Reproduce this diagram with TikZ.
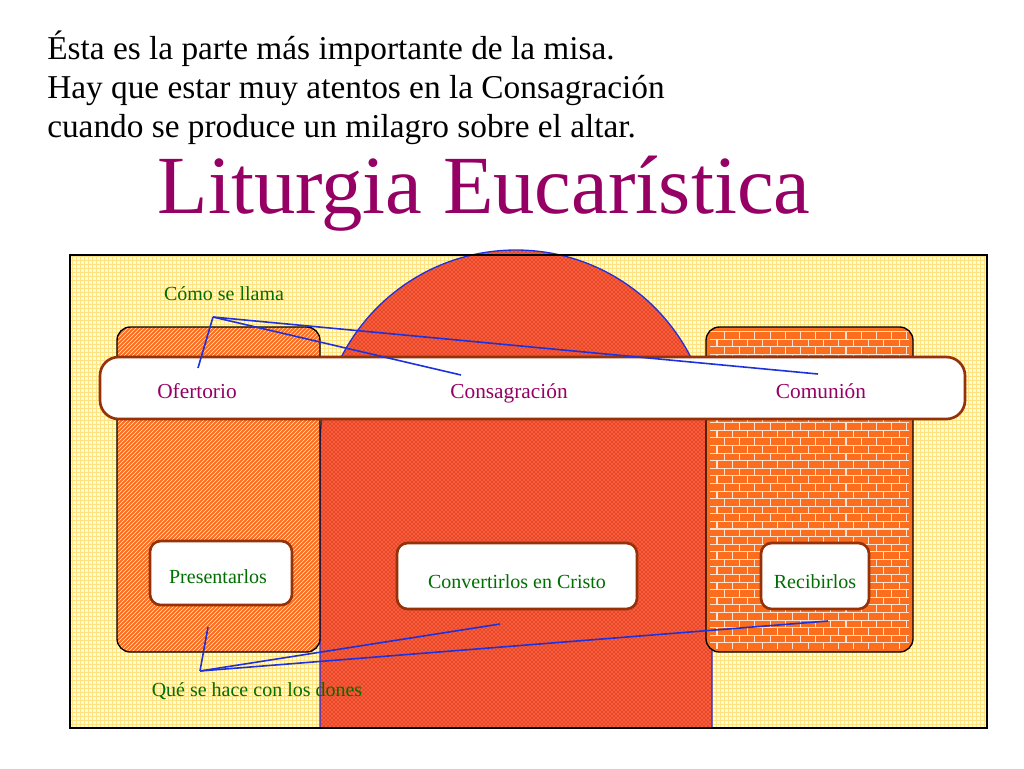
\documentclass[tikz,border=0pt]{standalone}
\usepackage{fontspec}
\setmainfont{Liberation Serif}
\usetikzlibrary{patterns}
\definecolor{bgyel}{RGB}{255,250,215}
\definecolor{redor}{RGB}{238,70,35}
\definecolor{orng}{RGB}{250,110,30}
\definecolor{brn}{RGB}{150,50,10}
\definecolor{purp}{RGB}{150,0,100}
\definecolor{grn}{RGB}{0,110,0}
\definecolor{blu}{RGB}{30,50,220}
\tikzset{
  lbox/.style={draw=brn, line width=2pt, fill=white, rounded corners=8pt},
  ptxt/.style={text=purp, anchor=base, font=\fontsize{16}{18}\selectfont},
  gtxt/.style={text=grn, anchor=base, font=\fontsize{15}{17}\selectfont},
  link/.style={draw=blu, line width=1.2pt}
}
\begin{document}
\begin{tikzpicture}[x=0.75pt, y=-0.75pt]
\useasboundingbox (0,0) rectangle (1024,768);
% Heading
\node[anchor=north west, align=left, inner sep=0pt, font=\fontsize{25}{29}\selectfont] (head) at (47,31)
  {Ésta es la parte más importante de la misa.\\Hay que estar muy atentos en la Consagración\\cuando se produce un milagro sobre el altar.};
\node[text=purp, font=\fontsize{62}{68}\selectfont] (title) at (484,194) {Liturgia Eucarística};

% Frame
\fill[bgyel] (70,255) rectangle (987,728);
\fill[pattern=grid, pattern color=yellow!55!orange!50] (70,255) rectangle (987,728);
\fill[redor] (320,728) -- (320,446) arc[start angle=180, end angle=360, radius=196] -- (712,728) -- cycle;
\fill[pattern=crosshatch dots, pattern color=white!60!redor] (320,728) -- (320,446) arc[start angle=180, end angle=360, radius=196] -- (712,728) -- cycle;
\draw[blu, line width=1pt] (320,728) -- (320,446) arc[start angle=180, end angle=360, radius=196] -- (712,728);
\draw[line width=1pt] (70,255) rectangle (987,728);

% Side panels
\fill[orng, rounded corners=10pt] (117,327) rectangle (320,652);
\fill[pattern=north east lines, pattern color=white!85!orng, rounded corners=10pt] (117,327) rectangle (320,652);
\draw[line width=1pt, rounded corners=10pt] (117,327) rectangle (320,652);
\fill[orng, rounded corners=10pt] (706,327) rectangle (913,652);
\fill[pattern=bricks, pattern color=white!80!orng] (710,331) rectangle (909,648);
\draw[line width=1pt, rounded corners=10pt] (706,327) rectangle (913,652);

% Band
\draw[lbox, rounded corners=14pt] (100,357) rectangle (965,419);
\node[ptxt] (ofer) at (197,398) {Ofertorio};
\node[ptxt] (cons) at (509,398) {Consagración};
\node[ptxt] (comu) at (821,398) {Comunión};

% Boxes
\draw[lbox] (150,541) rectangle (292,605);
\node[gtxt] (pres) at (218,583) {Presentarlos};
\draw[lbox] (397,543) rectangle (637,609);
\node[gtxt] (conv) at (517,588) {Convertirlos en Cristo};
\draw[lbox] (761,543) rectangle (869,609);
\node[gtxt] (reci) at (815,588) {Recibirlos};

% Callouts
\node[gtxt] (como) at (224,300) {Cómo se llama};
\coordinate (cp) at (213,317);
\draw[link] (cp) -- (198,368);
\draw[link] (cp) -- (461,375);
\draw[link] (cp) -- (818,374);
\node[gtxt] (que) at (257,696) {Qué se hace con los dones};
\coordinate (qp) at (200,671);
\draw[link] (qp) -- (208,627);
\draw[link] (qp) -- (500,624);
\draw[link] (qp) -- (828,621);
\end{tikzpicture}
\end{document}
